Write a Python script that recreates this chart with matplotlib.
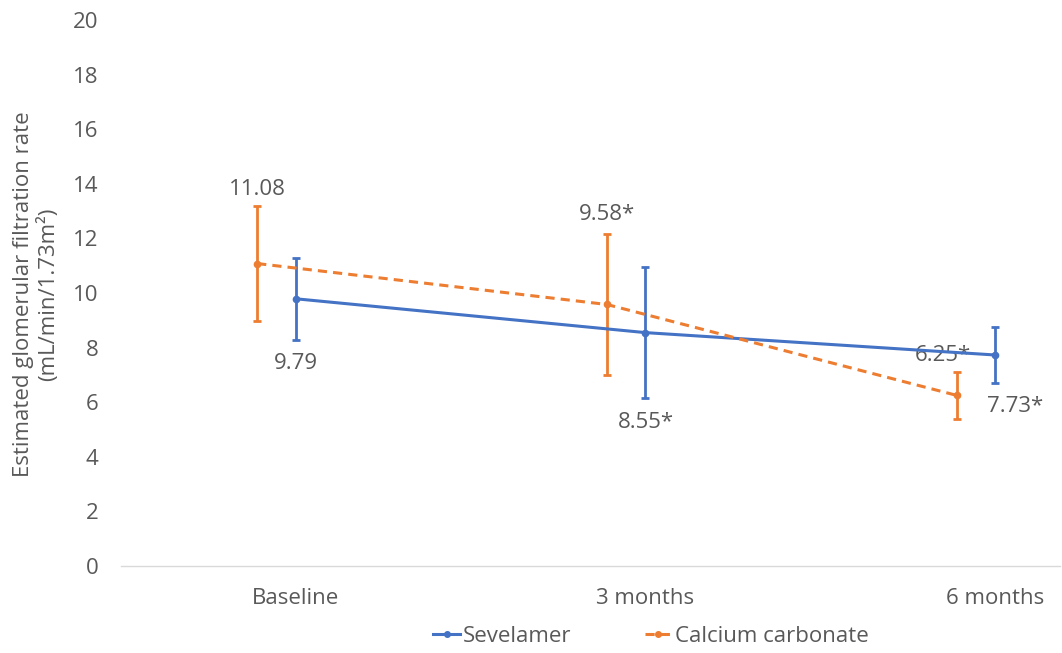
import matplotlib
matplotlib.use("Agg")
import matplotlib.pyplot as plt
from matplotlib.lines import Line2D
import numpy as np

# Data
categories = ["Baseline", "3 months", "6 months"]
sevelamer_mean = [9.79, 8.55, 7.73]
sevelamer_sd = [1.50, 2.41, 1.01]
calcium_mean = [11.08, 9.58, 6.25]
calcium_sd = [2.12, 2.58, 0.86]
sevelamer_labels = ["9.79", "8.55*", "7.73*"]
calcium_labels = ["11.08", "9.58*", "6.25*"]

BLUE = "#4472C4"
ORANGE = "#ED7D31"
TEXT = "#595959"
FS = 16

plt.rcParams["font.family"] = ["Open Sans", "DejaVu Sans"]
plt.rcParams["font.size"] = FS

fig = plt.figure(figsize=(10.62, 6.53), dpi=100)
ax = fig.add_axes([0.1137, 0.1332, 0.8844, 0.8361])

x = np.arange(len(categories))
x_cal = x - 0.11

ax.errorbar(x, sevelamer_mean, yerr=sevelamer_sd, color=BLUE, lw=2.2,
            marker="o", ms=4.5, elinewidth=2.0, capsize=3, capthick=2.0,
            zorder=3)
ax.errorbar(x_cal, calcium_mean, yerr=calcium_sd, color=ORANGE, lw=2.2,
            ls=(0, (3, 2)), marker="o", ms=4.5, elinewidth=2.0, capsize=3,
            capthick=2.0, zorder=3)

# value labels: calcium above the error bar, sevelamer below
cal_offsets = [(0, 12), (0, 14), (-10, 12)]
sev_offsets = [(0, -17), (0, -17), (14, -17)]
for xi, m, s, lab, off in zip(x_cal, calcium_mean, calcium_sd, calcium_labels, cal_offsets):
    ax.annotate(lab, (xi, m + s), xytext=off, textcoords="offset points",
                ha="center", va="center", color=TEXT, fontsize=FS)
for xi, m, s, lab, off in zip(x, sevelamer_mean, sevelamer_sd, sevelamer_labels, sev_offsets):
    ax.annotate(lab, (xi, m - s), xytext=off, textcoords="offset points",
                ha="center", va="center", color=TEXT, fontsize=FS)

ax.set_xlim(-0.5, 2.185)
ax.set_ylim(0, 20)
ax.set_yticks(np.arange(0, 21, 2))
ax.set_xticks(x)
ax.set_xticklabels(categories)
ax.tick_params(axis="both", length=0, colors=TEXT, labelsize=FS)
ax.tick_params(axis="y", pad=16)
ax.tick_params(axis="x", pad=16)
for side in ["left", "right", "top"]:
    ax.spines[side].set_visible(False)
ax.spines["bottom"].set_color("#D9D9D9")
ax.spines["bottom"].set_linewidth(1.0)

fig.text(0.034, 0.55, "Estimated glomerular filtration rate\n(mL/min/1.73m²)",
         rotation=90, ha="center", va="center", color=TEXT, fontsize=FS,
         multialignment="center", linespacing=1.2)

handles = [
    Line2D([], [], color=BLUE, lw=2.2, marker="o", ms=4),
    Line2D([], [], color=ORANGE, lw=2.2, ls=(0, (3, 2)), marker="o", ms=4),
]
fig.legend(handles, ["Sevelamer", "Calcium carbonate"], loc="center",
           bbox_to_anchor=(0.613, 0.026), ncol=2, frameon=False,
           handlelength=1.2, handletextpad=0.15, columnspacing=3.3,
           labelcolor=TEXT, fontsize=FS)

fig.savefig("out.png", dpi=100, facecolor="white")
